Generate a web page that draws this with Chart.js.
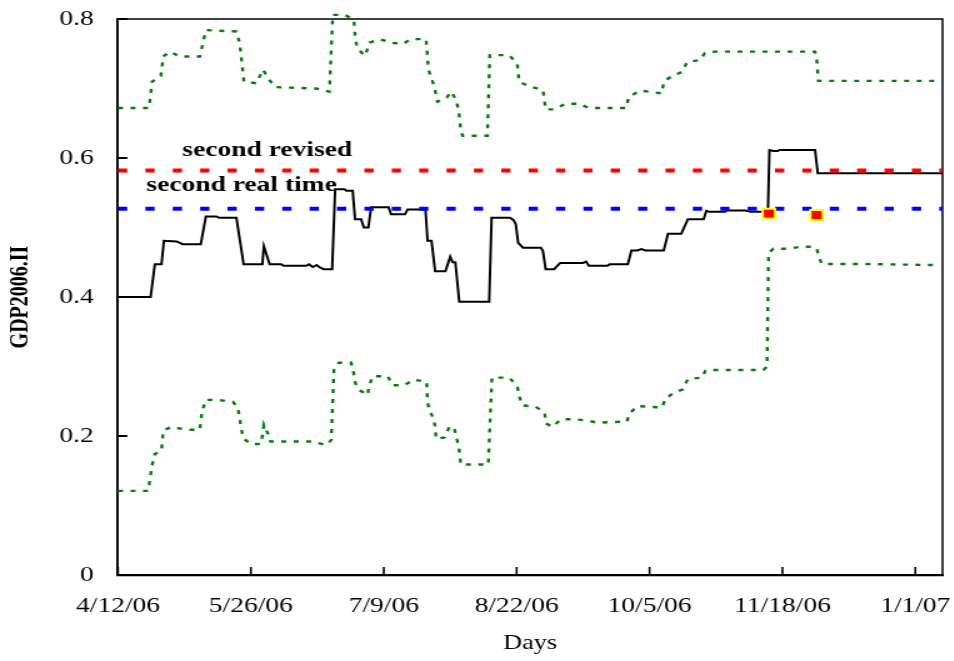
<!DOCTYPE html>
<html><head><meta charset="utf-8">
<script src="https://cdn.jsdelivr.net/npm/chart.js@4.4.1/dist/chart.umd.min.js"></script>
<style>
html,body{margin:0;padding:0;background:#fff;overflow:hidden;width:954px;height:661px}
#wrap{width:763px;height:661px;transform:scaleX(1.25);transform-origin:0 0}
canvas{display:block}
</style></head><body>
<div id="wrap"><canvas id="c" width="763" height="661" style="width:763px;height:661px"></canvas></div>
<script>
// x values are days after 4/12/06
const tickDays = [0, 44, 88, 132, 176, 220, 264];
const tickLabels = ["4/12/06", "5/26/06", "7/9/06", "8/22/06", "10/5/06", "11/18/06", "1/1/07"];
const yTicks = [0, 0.2, 0.4, 0.6, 0.8];
const yTickLabels = ["0", "0.2", "0.4", "0.6", "0.8"];

const centralDays = [0,10.8,12.2,14.4,15.2,19.4,21.4,27.4,29.1,32.6,33.5,39.2,41.6,47.8,48.3,50.2,54.1,54.8,62.3,63.2,64.5,65.8,66.7,68.1,70.9,71.9,75.0,75.6,77.7,78.5,80.5,81.4,82.9,83.8,89.6,90.4,95.0,95.9,101.8,102.5,103.8,105.0,108.4,110.0,110.8,111.7,113.0,122.9,123.7,129.8,130.9,131.7,132.5,134.1,140.0,140.7,141.6,144.4,146.4,154.0,155.0,155.9,162.0,162.8,168.8,170.0,171.9,173.3,174.7,180.7,182.1,186.5,188.7,193.9,194.8,195.8,200.9,201.6,207.7,209.4,212.7,215.2,215.7,217.0,218.4,219.0,230.8,231.7,273];
const centralValues = [0.400,0.400,0.447,0.447,0.481,0.480,0.476,0.476,0.516,0.516,0.514,0.514,0.447,0.447,0.473,0.447,0.447,0.445,0.445,0.447,0.443,0.446,0.443,0.440,0.440,0.555,0.555,0.553,0.553,0.512,0.512,0.500,0.500,0.529,0.529,0.519,0.519,0.526,0.526,0.481,0.481,0.437,0.437,0.458,0.450,0.450,0.393,0.393,0.514,0.514,0.511,0.505,0.478,0.471,0.471,0.466,0.440,0.440,0.449,0.449,0.451,0.445,0.445,0.447,0.447,0.467,0.467,0.469,0.467,0.467,0.491,0.491,0.512,0.512,0.524,0.5225,0.5225,0.5245,0.5245,0.5225,0.5225,0.5245,0.6115,0.610,0.610,0.6115,0.6115,0.578,0.578];

const upperDays = [0,10.3,11.3,14.2,15.0,17.2,20.5,27.1,29.1,39.2,40.3,41.7,45.8,48.0,50.2,51.9,65.6,70.0,71.1,75.0,78.1,78.6,79.4,81.8,83.3,86.6,90.4,94.3,97.0,102.0,102.3,102.8,104.7,105.8,108.8,110.4,111.9,112.8,113.5,114.1,122.3,123.1,129.5,132.2,132.8,136.1,140.7,141.6,144.4,148.2,152.6,155.9,168.3,169.1,173.0,180.1,180.7,183.5,186.8,188.4,192.8,194.3,197.8,230.8,231.4,231.9,273];
const upperValues = [0.672,0.672,0.710,0.718,0.746,0.753,0.746,0.746,0.784,0.782,0.765,0.710,0.7075,0.727,0.712,0.702,0.700,0.6955,0.806,0.806,0.799,0.770,0.757,0.747,0.766,0.771,0.766,0.764,0.771,0.771,0.755,0.727,0.703,0.681,0.687,0.6955,0.6835,0.669,0.640,0.632,0.632,0.748,0.748,0.736,0.710,0.703,0.698,0.670,0.670,0.678,0.678,0.672,0.672,0.688,0.697,0.693,0.710,0.718,0.724,0.738,0.741,0.751,0.753,0.753,0.740,0.711,0.711];

const lowerDays = [0,10.0,11.3,12.2,14.4,15.0,17.7,22.9,27.1,27.8,29.1,33.1,38.1,39.7,41.4,43.9,47.2,48.0,48.3,49.7,50.5,64.5,68.9,70.6,71.5,73.1,77.2,78.1,78.6,79.9,82.7,83.0,84.3,89.3,90.9,94.8,97.8,102.2,102.5,103.1,104.5,105.1,105.3,108.1,109.7,111.3,111.9,112.8,113.2,113.5,122.6,123.8,129.5,132.2,132.8,133.9,138.3,141.2,141.8,143.8,146.6,151.5,155.9,158.7,168.6,169.1,171.9,180.1,181.3,184.0,187.0,188.7,193.4,194.5,195.6,213.7,214.9,215.4,217.0,222.0,226.4,230.3,231.4,232.2,233.1,246.8,269.9];
const lowerValues = [0.121,0.121,0.158,0.174,0.179,0.208,0.213,0.209,0.209,0.235,0.252,0.252,0.249,0.240,0.197,0.1885,0.1885,0.204,0.216,0.203,0.192,0.192,0.187,0.194,0.295,0.3055,0.3055,0.289,0.276,0.266,0.259,0.270,0.286,0.286,0.273,0.273,0.281,0.278,0.249,0.237,0.225,0.211,0.196,0.198,0.213,0.2125,0.200,0.186,0.172,0.159,0.159,0.284,0.284,0.272,0.258,0.244,0.242,0.234,0.218,0.213,0.224,0.224,0.222,0.219,0.221,0.231,0.243,0.241,0.254,0.262,0.267,0.282,0.284,0.294,0.295,0.295,0.300,0.463,0.4695,0.4695,0.4724,0.4724,0.469,0.456,0.4475,0.4475,0.446];

const releaseDays = [215.5, 231.3];
const releaseValues = [0.520, 0.518];

const levelDays = [0, 273];
const secondRevised = [0.582, 0.582];
const secondRealTime = [0.527, 0.527];

const annotations = [
  {text: "second revised", day: 21.3, value: 0.603},
  {text: "second real time", day: 9.4, value: 0.552}
];

const pts = (xs, ys) => xs.map((d, i) => ({x: d, y: ys[i]}));
const SERIF = '"Liberation Serif", "Times New Roman", serif';

const framePlugin = {
  id: 'frame',
  beforeDatasetsDraw(chart) {
    const {ctx, chartArea: a, scales: {x, y}} = chart;
    ctx.save();
    ctx.strokeStyle = '#000';
    ctx.lineWidth = 1.5;
    ctx.beginPath();
    ctx.moveTo(a.left, a.top); ctx.lineTo(a.right, a.top); ctx.lineTo(a.right, a.bottom);
    ctx.stroke();
    ctx.lineWidth = 1.6;
    tickDays.forEach(d => {
      const px = x.getPixelForValue(d);
      ctx.beginPath(); ctx.moveTo(px, a.bottom); ctx.lineTo(px, a.bottom - 8); ctx.stroke();
    });
    ctx.lineWidth = 2;
    yTicks.forEach(v => {
      const py = y.getPixelForValue(v);
      ctx.beginPath(); ctx.moveTo(a.left, py); ctx.lineTo(a.left + 7.5, py); ctx.stroke();
    });
    ctx.font = 'bold 22px ' + SERIF;
    ctx.fillStyle = '#000';
    ctx.textBaseline = 'alphabetic';
    ctx.textAlign = 'left';
    annotations.forEach(an => {
      ctx.fillText(an.text, x.getPixelForValue(an.day), y.getPixelForValue(an.value));
    });
    ctx.restore();
  }
};

new Chart(document.getElementById('c'), {
  type: 'line',
  data: {
    datasets: [
      {label: 'release', data: pts(releaseDays, releaseValues), showLine: false,
       pointStyle: 'rect', pointRadius: 7, pointBackgroundColor: '#ff0000',
       pointBorderColor: '#ffff00', pointBorderWidth: 2, order: 0},
      {label: 'second real time', data: pts(levelDays, secondRealTime), borderColor: '#0000ff',
       borderWidth: 4, borderDash: [7.4, 14.5], pointRadius: 0, order: 1},
      {label: 'second revised', data: pts(levelDays, secondRevised), borderColor: '#ff0000',
       borderWidth: 4, borderDash: [7.4, 14.5], pointRadius: 0, order: 2},
      {label: 'GDP2006.II', data: pts(centralDays, centralValues), borderColor: '#000000',
       borderWidth: 2, pointRadius: 0, order: 3},
      {label: 'upper', data: pts(upperDays, upperValues), borderColor: '#008000',
       borderWidth: 2.4, borderDash: [4, 6], pointRadius: 0, order: 4, clip: false},
      {label: 'lower', data: pts(lowerDays, lowerValues), borderColor: '#008000',
       borderWidth: 2.4, borderDash: [4, 6], pointRadius: 0, order: 5, clip: false}
    ]
  },
  options: {
    responsive: false,
    animation: false,
    devicePixelRatio: 1,
    layout: {padding: {left: 0, right: 7.8, top: 19, bottom: 0}},
    elements: {line: {tension: 0, fill: false}},
    plugins: {legend: {display: false}, tooltip: {enabled: false}},
    scales: {
      x: {
        type: 'linear', min: 0, max: 273,
        afterBuildTicks: s => { s.ticks = tickDays.map(v => ({value: v})); },
        afterFit: s => { s.height = 86; s.paddingLeft = 0; s.paddingRight = 0; },
        ticks: {
          autoSkip: false, maxRotation: 0, padding: 18, color: '#000',
          font: {family: SERIF, size: 22},
          callback: (v) => { const i = tickDays.indexOf(v); return i >= 0 ? tickLabels[i] : ''; }
        },
        grid: {display: true, drawOnChartArea: false, drawTicks: false},
        border: {display: true, color: '#000', width: 2.3},
        title: {display: true, text: 'Days', color: '#000',
                font: {family: SERIF, size: 21, lineHeight: 1.2}, padding: {top: 0, bottom: 4.5}}
      },
      y: {
        type: 'linear', min: 0, max: 0.8,
        afterBuildTicks: s => { s.ticks = yTicks.map(v => ({value: v})); },
        afterFit: s => { s.width = 94.4; s.paddingTop = 0; s.paddingBottom = 0; },
        ticks: {
          padding: 19.4, color: '#000', font: {family: SERIF, size: 22},
          callback: (v) => { const i = yTicks.findIndex(t => Math.abs(t - v) < 1e-9); return i >= 0 ? yTickLabels[i] : ''; }
        },
        grid: {display: true, drawOnChartArea: false, drawTicks: false},
        border: {display: true, color: '#000', width: 1.9},
        title: {display: true, text: 'GDP2006.II', color: '#000',
                font: {family: SERIF, size: 20, weight: 'bold', lineHeight: 1.2}, padding: {top: 4.6, bottom: 0}}
      }
    }
  },
  plugins: [framePlugin]
});
</script>
</body></html>
